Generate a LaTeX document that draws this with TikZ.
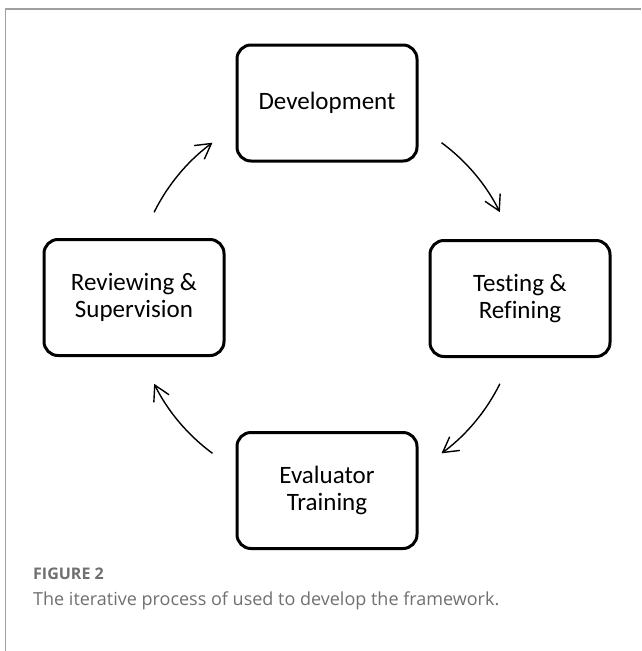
\documentclass[tikz,border=0pt]{standalone}
\usepackage{fontspec}
\setmainfont{Carlito}[Ligatures=NoCommon]
\newfontfamily\capfont{Open Sans}
\usetikzlibrary{arrows.meta}
\definecolor{framegray}{HTML}{A0A0A0}
\definecolor{captext}{HTML}{707070}
\tikzset{
  stage/.style={draw=black, line width=3pt, rounded corners=14pt,
    minimum width=180pt, minimum height=116pt, align=center,
    font=\fontsize{25}{27}\selectfont, inner sep=0pt},
  cycle/.style={line width=1.4pt, -{Straight Barb[length=15pt,width=17pt,line width=1.4pt]}},
  frameline/.style={draw=framegray, line width=1.5pt},
}
\begin{document}
\begin{tikzpicture}[x=1pt, y=-1pt]
  \useasboundingbox (0,0) rectangle (641,651);
  \fill[white] (0,0) rectangle (641,651);

  % panel frame, top and left sides
  \coordinate (ftr) at (641,9);
  \coordinate (ftl) at (5.5,9);
  \coordinate (fbl) at (5.5,651);
  \draw[frameline] (ftr) -- (ftl) -- (fbl);

  % the four stages
  \node[stage] (dev)  at (327,103)   {Development};
  \node[stage] (test) at (520,298.5) {Testing \&\\Refining};
  \node[stage] (eval) at (327,490.5) {Evaluator\\Training};
  \node[stage] (rev)  at (134,297.5) {Reviewing \&\\Supervision};

  % cycle arrows on a common circle
  \coordinate (hub) at (327,298);
  \coordinate (a1) at ([shift={(53.6:193pt)}]hub);
  \coordinate (a2) at ([shift={(-26.4:193pt)}]hub);
  \coordinate (a3) at ([shift={(-126.4:193pt)}]hub);
  \coordinate (a4) at ([shift={(153.6:193pt)}]hub);
  \draw[cycle] (a1) arc[start angle=-53.6, end angle=-26.4, radius=193];
  \draw[cycle] (a2) arc[start angle=26.4, end angle=53.6, radius=193];
  \draw[cycle] (a3) arc[start angle=126.4, end angle=153.6, radius=193];
  \draw[cycle] (a4) arc[start angle=206.4, end angle=233.6, radius=193];

  % caption
  \node[anchor=base west, inner sep=0pt, text=captext,
        font=\capfont\bfseries\fontsize{16}{19}\selectfont] (figlabel) at (33,579) {FIGURE 2};
  \node[anchor=base west, inner sep=0pt, text=captext,
        font=\capfont\fontsize{18}{21}\selectfont] (figtext) at (33,605)
        {The iterative process of used to develop the framework.};
\end{tikzpicture}
\end{document}
